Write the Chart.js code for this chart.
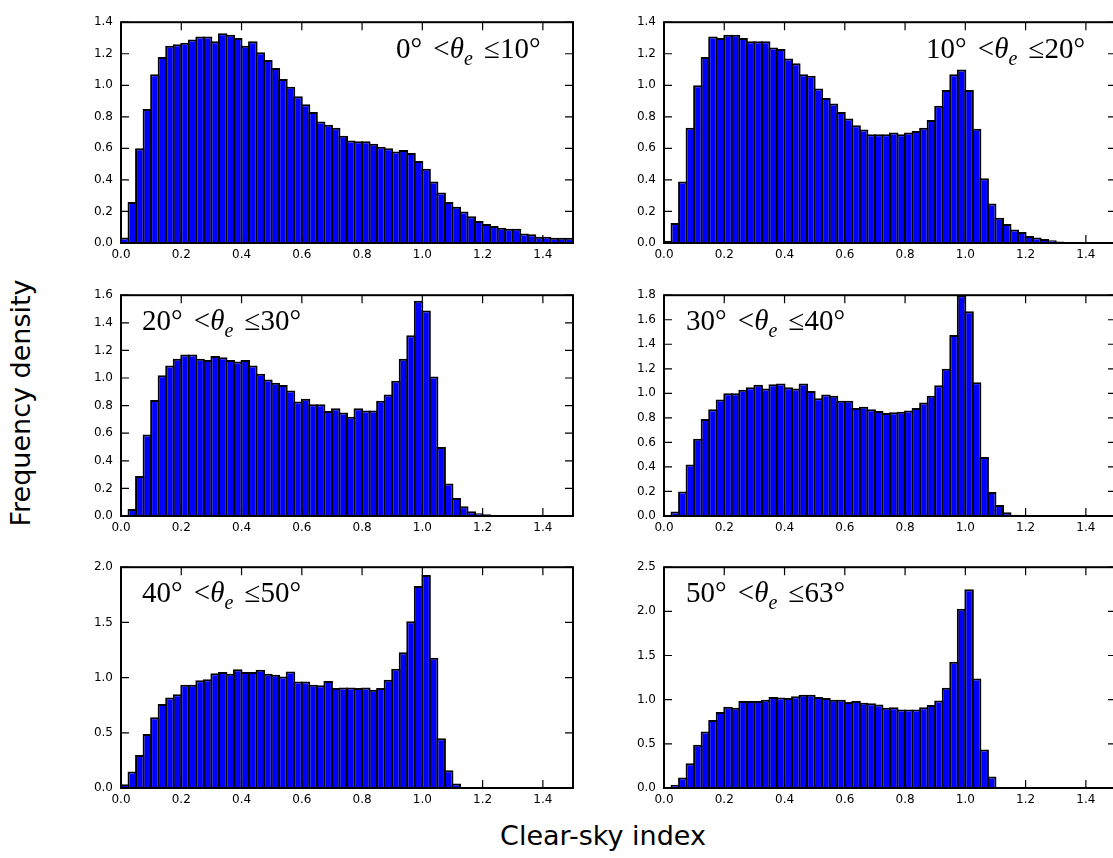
<!DOCTYPE html>
<html>
<head>
<meta charset="utf-8">
<script src="https://cdn.jsdelivr.net/npm/chart.js@4.4.1/dist/chart.umd.min.js"></script>
<style>
  html, body { margin: 0; padding: 0; background: #fff; }
  body { width: 1113px; height: 858px; overflow: hidden; position: relative; }
  canvas { position: absolute; }
  .panel-label {
    position: absolute;
    font-family: 'Liberation Serif', serif;
    font-size: 29px;
    line-height: 32px;
    word-spacing: 4px;
    white-space: nowrap;
    color: #000;
  }
  .panel-label i { font-style: italic; }
  .panel-label .sub { font-size: 20px; font-style: italic; position: relative; top: 7px; }
  .axis-label {
    position: absolute;
    font-family: 'DejaVu Sans', sans-serif;
    font-size: 27px;
    line-height: 30px;
    white-space: nowrap;
    color: #000;
  }
</style>
</head>
<body>

<canvas id="p0" width="532" height="266" style="left:61px;top:7px"></canvas>
<canvas id="p1" width="532" height="266" style="left:604px;top:7px"></canvas>
<canvas id="p2" width="532" height="266" style="left:61px;top:280px"></canvas>
<canvas id="p3" width="532" height="266" style="left:604px;top:280px"></canvas>
<canvas id="p4" width="532" height="266" style="left:61px;top:552px"></canvas>
<canvas id="p5" width="532" height="266" style="left:604px;top:552px"></canvas>

<div class="panel-label" style="left:396px;top:32px">0° &lt;<i>θ</i><span class="sub">e</span> ≤10°</div>
<div class="panel-label" style="left:926px;top:32px">10° &lt;<i>θ</i><span class="sub">e</span> ≤20°</div>
<div class="panel-label" style="left:142px;top:304px">20° &lt;<i>θ</i><span class="sub">e</span> ≤30°</div>
<div class="panel-label" style="left:686px;top:304px">30° &lt;<i>θ</i><span class="sub">e</span> ≤40°</div>
<div class="panel-label" style="left:142px;top:576px">40° &lt;<i>θ</i><span class="sub">e</span> ≤50°</div>
<div class="panel-label" style="left:686px;top:576px">50° &lt;<i>θ</i><span class="sub">e</span> ≤63°</div>

<div class="axis-label" style="left:21px;top:403px;transform:translate(-50%,-50%) rotate(-90deg)">Frequency density</div>
<div class="axis-label" style="left:603px;top:821px;transform:translateX(-50%)">Clear-sky index</div>

<script>
// histogram bins (clear-sky index)
const binWidth = 0.025;
const xMax = 1.5;
const xTicks = [0, 0.2, 0.4, 0.6, 0.8, 1.0, 1.2, 1.4];

// frequency density per bin, one array per zenith band
const freq0to10 = [
  0.035, 0.26, 0.60, 0.85, 1.07, 1.18, 1.25, 1.26, 1.27, 1.29,
  1.31, 1.31, 1.28, 1.33, 1.32, 1.30, 1.25, 1.28, 1.21, 1.16,
  1.11, 1.04, 0.99, 0.93, 0.88, 0.83, 0.77, 0.75, 0.73, 0.68,
  0.65, 0.645, 0.645, 0.63, 0.61, 0.60, 0.58, 0.59, 0.57, 0.52,
  0.47, 0.39, 0.32, 0.26, 0.23, 0.20, 0.17, 0.14, 0.12, 0.107,
  0.096, 0.090, 0.090, 0.061, 0.055, 0.039, 0.039, 0.033, 0.033, 0.033
];
const freq10to20 = [
  0.014, 0.127, 0.39, 0.73, 1.00, 1.18, 1.31, 1.30, 1.32, 1.32,
  1.30, 1.28, 1.28, 1.28, 1.24, 1.23, 1.17, 1.14, 1.07, 1.06,
  0.98, 0.92, 0.885, 0.83, 0.79, 0.746, 0.72, 0.69, 0.69, 0.69,
  0.70, 0.69, 0.70, 0.71, 0.73, 0.78, 0.87, 0.97, 1.07, 1.10,
  0.97, 0.725, 0.41, 0.25, 0.16, 0.12, 0.086, 0.07, 0.045, 0.035,
  0.025, 0.018, 0.01, 0.005, 0.003, 0.002, 0.001, 0.001, 0, 0
];
const freq20to30 = [
  0.004, 0.05, 0.29, 0.59, 0.84, 1.02, 1.09, 1.14, 1.17, 1.17,
  1.14, 1.13, 1.16, 1.15, 1.13, 1.12, 1.13, 1.09, 1.03, 0.99,
  0.965, 0.95, 0.91, 0.83, 0.85, 0.81, 0.81, 0.76, 0.78, 0.75,
  0.72, 0.78, 0.765, 0.765, 0.835, 0.88, 0.98, 1.14, 1.31, 1.56,
  1.49, 1.01, 0.50, 0.235, 0.13, 0.07, 0.035, 0.02, 0.012, 0.008,
  0.005, 0.004, 0.003, 0.002, 0.001, 0.001, 0.001, 0.001, 0.001, 0.001
];
const freq30to40 = [
  0.002, 0.037, 0.20, 0.42, 0.63, 0.79, 0.87, 0.95, 1.00, 1.00,
  1.03, 1.05, 1.07, 1.04, 1.075, 1.08, 1.05, 1.04, 1.08, 1.02,
  0.96, 0.99, 0.98, 0.94, 0.94, 0.88, 0.89, 0.87, 0.855, 0.84,
  0.845, 0.85, 0.86, 0.88, 0.925, 0.98, 1.065, 1.20, 1.475, 1.80,
  1.67, 1.09, 0.48, 0.195, 0.09, 0.03, 0.01, 0.005, 0.002, 0,
  0, 0, 0, 0, 0, 0, 0, 0, 0, 0
];
const freq40to50 = [
  0.035, 0.15, 0.30, 0.49, 0.64, 0.76, 0.82, 0.85, 0.935, 0.935,
  0.975, 0.985, 1.04, 1.05, 1.035, 1.075, 1.05, 1.05, 1.07, 1.035,
  1.025, 1.01, 1.055, 0.965, 0.965, 0.935, 0.93, 0.97, 0.905, 0.91,
  0.91, 0.905, 0.91, 0.89, 0.905, 0.98, 1.08, 1.23, 1.51, 1.83,
  1.93, 1.18, 0.45, 0.16, 0.04, 0.01, 0.003, 0, 0, 0,
  0, 0, 0, 0, 0, 0, 0, 0, 0, 0
];
const freq50to63 = [
  0.007, 0.037, 0.12, 0.28, 0.49, 0.64, 0.77, 0.86, 0.92, 0.91,
  0.985, 0.985, 0.985, 1.00, 1.03, 1.025, 1.02, 1.04, 1.055, 1.057,
  1.03, 1.02, 1.00, 1.00, 0.975, 0.985, 0.965, 0.96, 0.945, 0.91,
  0.915, 0.89, 0.89, 0.89, 0.915, 0.94, 0.99, 1.135, 1.43, 2.03,
  2.25, 1.24, 0.435, 0.13, 0.007, 0, 0, 0, 0, 0,
  0, 0, 0, 0, 0, 0, 0, 0, 0, 0
];

// y tick labels per panel
const yTicks14 = [0, 0.2, 0.4, 0.6, 0.8, 1.0, 1.2, 1.4];
const yTicks16 = [0, 0.2, 0.4, 0.6, 0.8, 1.0, 1.2, 1.4, 1.6];
const yTicks18 = [0, 0.2, 0.4, 0.6, 0.8, 1.0, 1.2, 1.4, 1.6, 1.8];
const yTicks20 = [0, 0.5, 1.0, 1.5, 2.0];
const yTicks25 = [0, 0.5, 1.0, 1.5, 2.0, 2.5];

const panels = [
  { id: 'p0', values: freq0to10, yMax: 1.4, yTicks: yTicks14 },
  { id: 'p1', values: freq10to20, yMax: 1.4, yTicks: yTicks14 },
  { id: 'p2', values: freq20to30, yMax: 1.6, yTicks: yTicks16 },
  { id: 'p3', values: freq30to40, yMax: 1.8, yTicks: yTicks18 },
  { id: 'p4', values: freq40to50, yMax: 2.0, yTicks: yTicks20 },
  { id: 'p5', values: freq50to63, yMax: 2.5, yTicks: yTicks25 }
];

Chart.defaults.font.family = "'DejaVu Sans', sans-serif";
Chart.defaults.font.size = 12;
Chart.defaults.color = '#000';

const plotWidth = 452;
const binPx = plotWidth * binWidth / xMax;
const edgeWidth = 2;
const tickLen = 8;

// matplotlib-like frame with inward ticks on all four sides
const frameTicks = {
  id: 'frameTicks',
  afterDatasetsDraw(chart) {
    const { ctx, chartArea: a, scales: { x, y } } = chart;
    ctx.save();
    ctx.strokeStyle = '#000';
    ctx.lineWidth = 1.2;
    ctx.beginPath();
    x.ticks.forEach(function (t) {
      const px = x.getPixelForValue(t.value);
      ctx.moveTo(px, a.bottom);
      ctx.lineTo(px, a.bottom - tickLen);
      ctx.moveTo(px, a.top);
      ctx.lineTo(px, a.top + tickLen);
    });
    y.ticks.forEach(function (t) {
      const py = y.getPixelForValue(t.value);
      ctx.moveTo(a.left, py);
      ctx.lineTo(a.left + tickLen, py);
      ctx.moveTo(a.right, py);
      ctx.lineTo(a.right - tickLen, py);
    });
    ctx.stroke();
    ctx.lineWidth = 2;
    ctx.strokeRect(a.left, a.top, a.right - a.left, a.bottom - a.top);
    ctx.restore();
  }
};

function makeChart(p) {
  new Chart(document.getElementById(p.id), {
    type: 'bar',
    data: {
      datasets: [{
        data: p.values.map(function (v, i) { return { x: (i + 0.5) * binWidth, y: v }; }),
        backgroundColor: '#0000ff',
        borderColor: '#000000',
        borderWidth: edgeWidth,
        borderSkipped: 'start',
        // widen a little so neighbouring edges overlap like shared edges
        barPercentage: 1 + edgeWidth / binPx,
        categoryPercentage: 1
      }]
    },
    options: {
      responsive: false,
      animation: false,
      events: [],
      layout: { padding: { top: 10, right: 20, left: 0, bottom: 0 } },
      plugins: { legend: { display: false }, tooltip: { enabled: false } },
      scales: {
        x: {
          type: 'linear',
          min: 0,
          max: xMax,
          offset: false,
          grid: { display: false, drawTicks: false },
          border: { display: false },
          afterBuildTicks: function (s) { s.ticks = xTicks.map(function (v) { return { value: v }; }); },
          afterFit: function (s) { s.height = 30; },
          ticks: { padding: 5, maxRotation: 0, autoSkip: false, callback: function (v) { return v.toFixed(1); } }
        },
        y: {
          type: 'linear',
          min: 0,
          max: p.yMax,
          grid: { display: false, drawTicks: false },
          border: { display: false },
          afterBuildTicks: function (s) { s.ticks = p.yTicks.map(function (v) { return { value: v }; }); },
          afterFit: function (s) { s.width = 60; },
          ticks: { padding: 8, autoSkip: false, callback: function (v) { return v.toFixed(1); } }
        }
      }
    },
    plugins: [frameTicks]
  });
}

panels.forEach(makeChart);
</script>
</body>
</html>
